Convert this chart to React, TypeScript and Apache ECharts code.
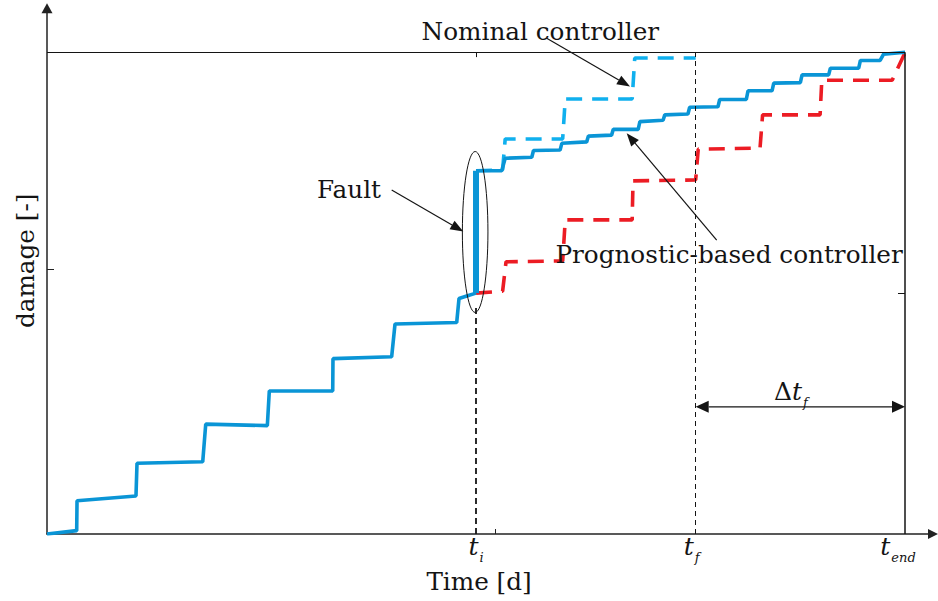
import React, { useEffect, useRef } from "react";
import * as echarts from "echarts";

// ---- data (time in days-like units, damage normalised) ----
const preFault: [number, number][] = [
  [0, 0], [3.46, 0.007], [3.5, 0.069], [10.37, 0.079], [10.49, 0.147], [18.15, 0.15],
  [18.5, 0.228], [25.68, 0.225], [25.91, 0.297], [33.3, 0.297], [33.33, 0.364],
  [40.17, 0.368], [40.56, 0.436], [47.75, 0.439], [48.02, 0.489], [48.92, 0.494], [50, 0.5],
];
const faultJump: [number, number][] = [[50, 0.5], [50, 0.754]];
const prognostic: [number, number][] = [
  [50, 0.754], [53.0, 0.754], [53.4, 0.78], [56.5, 0.782], [56.7, 0.796], [59.8, 0.797],
  [60.0, 0.811], [62.9, 0.814], [63.1, 0.826], [65.8, 0.828], [66.0, 0.84], [68.9, 0.84],
  [69.1, 0.856], [71.8, 0.859], [72.0, 0.87], [74.7, 0.872], [74.9, 0.886], [78.2, 0.887],
  [78.4, 0.902], [81.5, 0.902], [81.7, 0.92], [84.5, 0.92], [84.7, 0.936], [87.8, 0.937],
  [88.0, 0.953], [91.1, 0.953], [91.3, 0.967], [94.6, 0.967], [94.8, 0.983], [97.1, 0.983],
  [97.5, 0.996], [100, 1.0],
];
const nominal: [number, number][] = [
  [50, 0.754], [53.1, 0.756], [53.4, 0.82], [60.1, 0.82], [60.4, 0.903], [68.2, 0.903],
  [68.5, 0.988], [75.6, 0.988],
];
const prognosticFuture: [number, number][] = [
  [50, 0.5], [53.1, 0.504], [53.5, 0.565], [60.1, 0.567], [60.4, 0.652], [68.2, 0.652],
  [68.3, 0.733], [75.6, 0.735], [75.9, 0.799], [83.1, 0.801], [83.4, 0.87], [90.1, 0.87],
  [90.3, 0.942], [98.5, 0.942], [100, 0.999],
];

const T_I = 50;
const T_F = 75.6;
const T_END = 100;
const xTickValues = [T_I, T_F, T_END];
const xTickSubs = ["i", "f", "end"];
const xMinorTicks = [52.2];
const yMinorTicks = [0.55];

const X_MAX = 103.26;
const Y_MAX = 1.0913;

const BLUE = "#0a95d6";
const LIGHT_BLUE = "#10b0ee";
const RED = "#ec1c24";
const INK = "#141414";
const FONT = "DejaVu Serif";
const ANNO_SIZE = 24.7;

export default function App() {
  const ref = useRef<HTMLDivElement>(null);

  useEffect(() => {
    if (!ref.current) return;
    const chart = echarts.init(ref.current, undefined, { renderer: "svg" });

    const solid = (color: string, width: number) => ({ color, width, type: "solid" as const });
    const dashed = (color: string) => ({ color, width: 3.6, type: [16, 10] as any, cap: "butt" as const });

    const option: any = {
      animation: false,
      backgroundColor: "#ffffff",
      grid: { left: 47, right: 5, top: 8.3, bottom: 67, containLabel: false, outerBoundsMode: "none" },
      xAxis: {
        type: "value",
        min: 0,
        max: X_MAX,
        axisLine: {
          show: true,
          onZero: false,
          symbol: ["none", "triangle"],
          symbolSize: [10, 10],
          lineStyle: { color: "#222", width: 1.5 },
        },
        axisTick: { show: true, inside: true, length: 5, customValues: xMinorTicks, lineStyle: { color: "#222", width: 1 } },
        axisLabel: {
          show: true,
          customValues: xTickValues,
          margin: 0,
          formatter: (v: number) => {
            const i = xTickValues.indexOf(v);
            if (i < 0) return "";
            const key = i === 0 ? "si" : i === 1 ? "sf" : "se";
            return `{t|t}{${key}|${xTickSubs[i]}}`;
          },
          rich: {
            t: { fontFamily: FONT, fontStyle: "italic", fontSize: 25, color: INK, lineHeight: 22, verticalAlign: "top" },
            si: { fontFamily: FONT, fontStyle: "italic", fontSize: 13, color: INK, lineHeight: 14, verticalAlign: "top", padding: [17, 0, 0, 1] },
            sf: { fontFamily: FONT, fontStyle: "italic", fontSize: 13, color: INK, lineHeight: 14, verticalAlign: "top", padding: [17, 8, 0, 1] },
            se: { fontFamily: FONT, fontStyle: "italic", fontSize: 13, color: INK, lineHeight: 14, verticalAlign: "top", padding: [17, 14, 0, 1] },
          },
        },
        splitLine: { show: false },
      },
      yAxis: {
        type: "value",
        min: 0,
        max: Y_MAX,
        axisLine: {
          show: true,
          onZero: false,
          symbol: ["none", "triangle"],
          symbolSize: [11, 10],
          lineStyle: { color: "#222", width: 1.5 },
        },
        axisTick: { show: true, inside: true, length: 7, customValues: yMinorTicks, lineStyle: { color: "#222", width: 1 } },
        axisLabel: { show: false },
        splitLine: { show: false },
      },
      series: [
        {
          name: "Damage before fault",
          type: "line",
          data: preFault,
          showSymbol: false,
          symbol: "none",
          lineStyle: solid(BLUE, 3.6),
          z: 4,
          silent: true,
          markLine: {
            silent: true,
            symbol: ["none", "none"],
            label: { show: false },
            emphasis: { disabled: true },
            data: [
              [{ coord: [0, 1], lineStyle: { color: INK, width: 1, type: "solid" } }, { coord: [T_END, 1] }],
              [{ coord: [T_END, 0], lineStyle: { color: INK, width: 1.5, type: "solid" } }, { coord: [T_END, 1] }],
              [{ coord: [T_I, 0], lineStyle: { color: INK, width: 1.8, type: [6, 4] } }, { coord: [T_I, 0.47] }],
              [{ coord: [T_F, 0], lineStyle: { color: INK, width: 1, type: [5, 4] } }, { coord: [T_F, 1] }],
              [{ coord: [T_END - 0.82, 0.5], lineStyle: { color: INK, width: 1, type: "solid" } }, { coord: [T_END, 0.5] }],
              [{ coord: [T_I, 1], lineStyle: { color: INK, width: 1, type: "solid" } }, { coord: [T_I, 0.99] }],
            ],
          },
        },
        {
          name: "Fault",
          type: "line",
          data: faultJump,
          symbol: "none",
          lineStyle: solid(BLUE, 6),
          z: 5,
          silent: true,
        },
        {
          name: "Nominal controller",
          type: "line",
          data: nominal,
          symbol: "none",
          lineStyle: dashed(LIGHT_BLUE),
          z: 3,
          silent: true,
        },
        {
          name: "Prognostic-based controller (predicted)",
          type: "line",
          data: prognosticFuture,
          symbol: "none",
          lineStyle: dashed(RED),
          z: 3,
          silent: true,
        },
        {
          name: "Prognostic-based controller",
          type: "line",
          data: prognostic,
          symbol: "none",
          lineStyle: solid(BLUE, 3.6),
          z: 4,
          silent: true,
        },
      ],
    };

    chart.setOption(option);

    const P = (p: number[]) => chart.convertToPixel({ gridIndex: 0 } as any, p) as number[];

    const arrow = (fromD: number[], toD: number[], head = 13, half = 5, both = false) => {
      const a = P(fromD);
      const b = P(toD);
      const dx = b[0] - a[0];
      const dy = b[1] - a[1];
      const len = Math.hypot(dx, dy);
      const ux = dx / len, uy = dy / len;
      const px = -uy, py = ux;
      const els: any[] = [];
      const s = both ? [a[0] + ux * head, a[1] + uy * head] : a;
      const e = [b[0] - ux * head, b[1] - uy * head];
      els.push({ type: "line", shape: { x1: s[0], y1: s[1], x2: e[0], y2: e[1] }, style: { stroke: INK, lineWidth: 1.2 }, z: 10 });
      els.push({
        type: "polygon",
        shape: { points: [[b[0], b[1]], [e[0] + px * half, e[1] + py * half], [e[0] - px * half, e[1] - py * half]] },
        style: { fill: INK },
        z: 10,
      });
      if (both) {
        els.push({
          type: "polygon",
          shape: { points: [[a[0], a[1]], [s[0] + px * half, s[1] + py * half], [s[0] - px * half, s[1] - py * half]] },
          style: { fill: INK },
          z: 10,
        });
      }
      return els;
    };

    const text = (at: number[], t: string, size = ANNO_SIZE, extra: any = {}) => {
      const p = P(at);
      return {
        type: "text",
        x: p[0],
        y: p[1],
        z: 11,
        ...extra,
        style: { text: t, fontFamily: FONT, fontSize: size, fill: INK, align: "center", verticalAlign: "middle", ...(extra.style || {}) },
      };
    };

    const ec = P([49.9, 0.627]);
    const eTop = P([49.9, 0.627 + 0.167]);
    const eRight = P([49.9 + 1.49, 0.627]);

    const graphic: any[] = [
      {
        type: "ellipse",
        shape: { cx: ec[0], cy: ec[1], rx: Math.abs(eRight[0] - ec[0]), ry: Math.abs(ec[1] - eTop[1]) },
        style: { fill: "none", stroke: INK, lineWidth: 1 },
        z: 10,
      },
      ...arrow([40.17, 0.714], [48.52, 0.628]),
      ...arrow([58.24, 1.029], [67.95, 0.929]),
      ...arrow([78.05, 0.61], [67.56, 0.832]),
      ...arrow([T_F, 0.264], [T_END, 0.264], 13, 6, true),
      text([35.2, 0.716], "Fault"),
      text([57.5, 1.044], "Nominal controller"),
      text([79.49, 0.581], "Prognostic-based controller"),
      text([86.7, 0.297], "", ANNO_SIZE, {
        style: {
          text: "{d|Δ}{t|t}{s|f}",
          rich: {
            d: { fontFamily: FONT, fontSize: 25, fill: INK, lineHeight: 24, verticalAlign: "top" },
            t: { fontFamily: FONT, fontStyle: "italic", fontSize: 25, fill: INK, lineHeight: 24, verticalAlign: "top" },
            s: { fontFamily: FONT, fontStyle: "italic", fontSize: 13, fill: INK, lineHeight: 14, verticalAlign: "top", padding: [17, 0, 0, 1] },
          },
        },
      }),
      text([50.35, -0.0976], "Time [d]"),
      text([-2.56, 0.567], "damage [-]", ANNO_SIZE, { rotation: Math.PI / 2 }),
    ];

    chart.setOption({ graphic });

    return () => chart.dispose();
  }, []);

  return <div ref={ref} style={{ position: "absolute", left: 0, top: 0, width: 938, height: 601 }} />;
}
